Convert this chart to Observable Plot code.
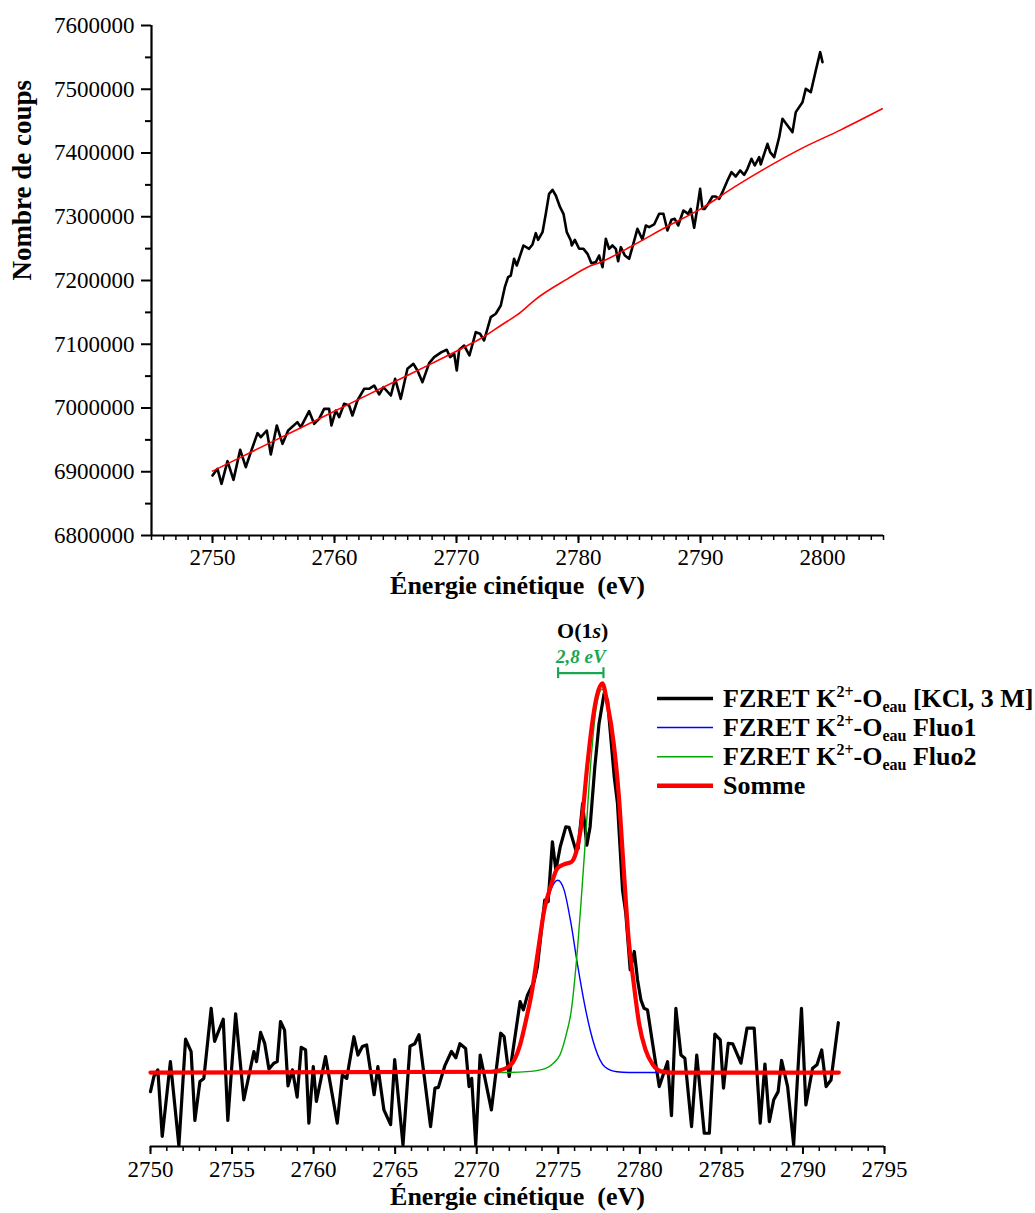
<!DOCTYPE html>
<html><head><meta charset="utf-8">
<script src="https://cdn.jsdelivr.net/npm/d3@7"></script>
<script src="https://cdn.jsdelivr.net/npm/@observablehq/plot@0.6"></script>
<style>
body{margin:0;background:#fff;}
svg{display:block}
</style></head><body>
<div id="chart"></div>
<script>
// ---------- DATA ----------
// Top panel: measured spectrum [energy (eV), counts]
const topSignal = [
[2750.00,6894100],[2750.41,6904600],[2750.74,6881100],[2751.23,6916600],[2751.72,6887300],[2752.27,6934400],[2752.73,6907200],[2753.14,6930700],[2753.69,6960500],[2753.96,6954200],[2754.45,6964700],[2754.78,6927100],[2755.27,6972600],[2755.74,6943800],[2756.20,6964700],[2756.96,6977800],[2757.24,6969900],[2757.92,6995000],[2758.33,6975200],[2758.74,6983000],[2759.15,6998700],[2759.56,6998700],[2759.75,6972600],[2760.11,6996100],[2760.38,6985600],[2760.79,7006600],[2761.20,7003900],[2761.47,6988200],[2761.88,7011800],[2762.43,7030100],[2762.84,7030100],[2763.25,7035300],[2763.66,7021200],[2764.01,7032700],[2764.62,7019600],[2764.97,7045800],[2765.43,7014400],[2765.98,7061500],[2766.47,7069300],[2766.80,7058800],[2767.21,7040500],[2767.76,7070300],[2768.17,7079700],[2768.77,7087600],[2769.20,7091300],[2769.48,7079700],[2769.81,7085000],[2770.02,7058800],[2770.22,7091300],[2770.63,7098000],[2771.06,7082400],[2771.58,7118900],[2771.94,7116400],[2772.26,7105900],[2772.81,7142500],[2773.22,7147800],
[2773.63,7160800],[2773.96,7189500],[2774.23,7205200],[2774.45,7207800],[2774.72,7234000],[2774.94,7223500],[2775.49,7254900],[2775.95,7249700],[2776.23,7256500],[2776.50,7274200],[2776.69,7263800],[2777.05,7275800],[2777.32,7304600],[2777.59,7336000],[2777.87,7342300],[2778.14,7333300],[2778.49,7315000],[2778.77,7304600],[2779.04,7275800],[2779.37,7262800],[2779.45,7254900],[2779.70,7263800],[2780.05,7249700],[2780.41,7249700],[2780.74,7241800],[2781.06,7227200],[2781.42,7228800],[2781.69,7239200],[2781.97,7220900],[2782.24,7265300],[2782.51,7249700],[2782.78,7254900],[2783.06,7249700],[2783.25,7230300],[2783.47,7252300],[2783.80,7239200],[2784.15,7234000],[2784.42,7252300],[2784.83,7281100],[2785.24,7264300],[2785.52,7286300],[2785.79,7283700],[2786.20,7287900],[2786.61,7304600],[2786.96,7304600],[2787.29,7278400],[2787.62,7295200],[2787.89,7296700],[2788.17,7286300],[2788.60,7309800],[2788.99,7304600],[2789.20,7312400],[2789.48,7282600],[2789.75,7315000],[2789.97,7343800],[2790.16,7312400],[2790.35,7312400],[2790.63,7320300],[2790.98,7331800],[2791.25,7331800],[2791.53,7328100],[2791.80,7338600],[2792.21,7356900],[2792.54,7369900],[2792.89,7363100],[2793.25,7372600],[2793.58,7365800],[2793.85,7375200],[2794.18,7390900],[2794.45,7380400],[2794.81,7393500],[2794.94,7382000],[2795.22,7398700],[2795.49,7414400],[2795.71,7401300],[2796.04,7393500],[2796.45,7424800],[2796.72,7453600],[2797.13,7443100],[2797.54,7432700],[2797.81,7464100],[2798.36,7479700],[2798.63,7500700],[2799.04,7495400],[2799.45,7529400],[2799.81,7558200],[2800.00,7542500]
];
// Top panel: background fit (red)
const topBackground = [
[2750.0,6901000],[2755.0,6948000],[2760.0,6995000],[2765.0,7042000],[2768.0,7070000],[2770.9,7098000],[2772.26,7112000],[2773.63,7129400],[2775.27,7150300],[2776.36,7168600],[2779.10,7202600],[2780.74,7220900],[2781.83,7228800],[2784.56,7256000],[2787.29,7285000],[2790.02,7312400],[2792.76,7346400],[2795.49,7377800],[2798.22,7406500],[2801.50,7436300],[2804.9,7469300]
];
const topYTicks = [6800000,6900000,7000000,7100000,7200000,7300000,7400000,7500000,7600000];
const topXTicks = [2750,2760,2770,2780,2790,2800];

// Bottom panel: background-subtracted signal (normalised, arbitrary units)
const bottomSignal = [
[2750.00,-0.049],[2750.21,-0.010],[2750.45,0.007],[2750.72,-0.164],[2751.22,0.028],[2751.74,-0.188],[2752.15,0.086],[2752.49,0.054],[2752.72,-0.123],[2753.03,-0.023],[2753.27,-0.015],[2753.72,0.165],[2753.93,0.080],[2754.46,0.137],[2754.74,-0.123],[2755.22,0.151],[2755.72,-0.070],[2756.13,0.011],[2756.34,0.054],[2756.50,0.028],[2756.75,0.103],[2757.00,0.075],[2757.26,0.009],[2757.56,0.024],[2757.77,0.028],[2757.97,0.131],[2758.22,0.109],[2758.43,-0.034],[2758.70,0.007],[2758.99,-0.063],[2759.24,0.065],[2759.51,0.058],[2759.71,-0.130],[2759.98,0.015],[2760.17,-0.074],[2760.73,0.041],[2761.45,-0.130],[2761.76,-0.006],[2762.03,-0.015],[2762.47,0.092],[2762.72,0.045],[2762.99,0.067],[2763.25,0.071],[2763.71,-0.057],[2763.94,0.015],[2764.31,-0.096],[2764.72,-0.134],[2764.97,0.033],[2765.48,-0.186],[2765.91,0.068],[2766.20,0.074],[2766.46,0.097],[2767.17,-0.139],[2767.44,-0.040],[2767.65,-0.038],[2768.04,0.017],[2768.45,0.054],[2768.72,0.038],[2768.97,0.074],[2769.32,0.062],[2769.53,-0.036],[2769.69,-0.015],[2769.94,-0.186],[2770.21,0.045],[2770.90,-0.096],[2771.47,0.101],[2771.68,0.092],[2771.99,-0.010],[2772.66,0.182],[2772.86,0.161],[2773.11,0.199],[2773.52,0.234],[2773.72,0.272],[2774.17,0.443],[2774.38,0.439],[2774.64,0.593],[2774.85,0.520],[2775.12,0.580],[2775.46,0.631],[2775.66,0.630],[2776.07,0.572],[2776.22,0.576],[2776.49,0.691],[2776.75,0.584],[2776.95,0.631],[2777.24,0.785],[2777.50,0.897],[2777.81,0.974],[2778.02,0.956],[2778.43,0.760],[2778.63,0.691],[2778.94,0.469],[2779.14,0.409],[2779.41,0.264],[2779.66,0.311],[2779.86,0.238],[2780.07,0.186],[2780.26,0.165],[2780.47,0.161],[2780.78,0.075],[2781.19,-0.036],[2781.70,0.028],[2781.94,-0.111],[2782.21,0.165],[2782.52,0.045],[2782.76,0.037],[2783.17,-0.139],[2783.49,0.045],[2783.95,-0.156],[2784.26,-0.156],[2784.60,0.099],[2784.93,0.084],[2785.13,-0.040],[2785.42,0.075],[2785.69,0.074],[2786.20,0.024],[2786.57,0.114],[2787.01,0.114],[2787.38,-0.130],[2787.67,0.022],[2787.94,-0.126],[2788.21,-0.070],[2788.48,-0.049],[2788.69,0.031],[2789.06,-0.036],[2789.43,-0.186],[2789.91,0.165],[2790.18,-0.083],[2790.59,0.011],[2790.86,0.020],[2791.15,0.058],[2791.42,-0.036],[2791.72,-0.019],[2792.17,0.128]
];
// Fitted components
const fluo1 = [
[2750,0],[2770.3,0],[2771.35,0.005],[2772.05,0.018],[2772.65,0.07],[2773.05,0.14],[2773.35,0.20],[2773.75,0.30],[2774.15,0.41],[2774.55,0.47],[2774.97,0.494],[2775.35,0.47],[2775.75,0.39],[2776.15,0.285],[2776.6,0.178],[2776.95,0.11],[2777.25,0.065],[2777.85,0.015],[2778.6,0.002],[2779.3,0],[2792.2,0]
];
const fluo2 = [
[2750,0],[2771.8,0],[2773.3,0.003],[2774.2,0.01],[2774.7,0.024],[2775.1,0.045],[2775.5,0.10],[2775.8,0.16],[2776.1,0.28],[2776.4,0.44],[2776.7,0.62],[2777.0,0.80],[2777.3,0.93],[2777.7,0.985],[2778.0,0.94],[2778.4,0.84],[2778.7,0.715],[2779.0,0.53],[2779.3,0.35],[2779.65,0.22],[2779.95,0.125],[2780.35,0.057],[2780.8,0.02],[2781.3,0.003],[2782.3,0],[2792.2,0]
];
const somme = [
[2750,0],[2770.85,0.002],[2771.35,0.005],[2772.05,0.018],[2772.65,0.07],[2773.05,0.14],[2773.35,0.20],[2773.75,0.31],[2774.15,0.42],[2774.55,0.48],[2774.95,0.525],[2775.35,0.535],[2775.8,0.541],[2776.1,0.567],[2776.45,0.648],[2776.75,0.777],[2777.05,0.888],[2777.35,0.965],[2777.7,1.0],[2778.0,0.95],[2778.4,0.845],[2778.7,0.717],[2779.0,0.53],[2779.3,0.35],[2779.65,0.221],[2779.95,0.127],[2780.35,0.058],[2780.8,0.02],[2781.3,0.003],[2781.8,0],[2792.2,0]
];
const bottomXTicks = [2750,2755,2760,2765,2770,2775,2780,2785,2790,2795];
// Annotation: splitting between the two components
const splitting = [{x1: 2774.99, x2: 2777.77, y: 1.026, label: "2,8 eV"}];
const peakName = {x: 2776.53, y: 1.135};

// Legend entries (shift: 0 = baseline, "sup" raised, "sub" lowered)
const legendSeries = [
  {parts: [["FZRET K", 0], ["2+", "sup"], ["-O", 0], ["eau", "sub"], [" [KCl, 3 M]", 0]], color: "#000000", width: 3.5},
  {parts: [["FZRET K", 0], ["2+", "sup"], ["-O", 0], ["eau", "sub"], [" Fluo1", 0]], color: "#0000ff", width: 1.5},
  {parts: [["FZRET K", 0], ["2+", "sup"], ["-O", 0], ["eau", "sub"], [" Fluo2", 0]], color: "#00a800", width: 1.5},
  {parts: [["Somme", 0]], color: "#ff0000", width: 4.5}
];

// ---------- CHART ----------
const font = "'Liberation Serif','Times New Roman',serif";
const green = "#1aa752";
const X = d => d[0], Y = d => d[1];

const topPlot = Plot.plot({
  width: 1035, height: 605,
  marginLeft: 151, marginRight: 152, marginTop: 25, marginBottom: 70,
  x: {domain: [2745, 2805]},
  y: {domain: [6800000, 7600000]},
  style: {fontFamily: font, fontSize: "23px", background: "#fff", color: "#000", overflow: "visible"},
  marks: [
    Plot.axisY({ticks: topYTicks, tickSize: 10, tickPadding: 7, tickFormat: d3.format("d"), label: null, strokeWidth: 2}),
    Plot.axisY({ticks: d3.range(6850000, 7600000, 100000), tickSize: 6, tickFormat: () => "", label: null, strokeWidth: 2}),
    Plot.axisX({ticks: topXTicks, tickSize: 8, tickPadding: 5, tickFormat: d3.format("d"), label: null, strokeWidth: 2}),
    Plot.axisX({ticks: d3.range(2745, 2806), tickSize: 5, tickFormat: () => "", label: null, strokeWidth: 1.5}),
    Plot.ruleX([2745], {strokeWidth: 2.2}),
    Plot.ruleY([6800000], {strokeWidth: 2.2}),
    Plot.line(topSignal, {x: X, y: Y, stroke: "#000", strokeWidth: 2.6}),
    Plot.line(topBackground, {x: X, y: Y, stroke: "#ff0000", strokeWidth: 1.6, curve: "monotone-x"}),
    Plot.text(["Énergie cinétique\u00a0 (eV)"], {text: d => d, frameAnchor: "bottom", dy: 58, fontSize: 26, fontWeight: "bold"}),
    Plot.text(["Nombre de coups"], {text: d => d, frameAnchor: "left", dx: -129, rotate: -90, fontSize: 27, fontWeight: "bold"})
  ]
});

const bottomPlot = Plot.plot({
  width: 1035, height: 608,
  marginLeft: 150, marginRight: 151, marginTop: 35, marginBottom: 67,
  x: {domain: [2750, 2795]},
  y: {domain: [-0.19, 1.11], axis: null},
  style: {fontFamily: font, fontSize: "23px", background: "#fff", color: "#000", overflow: "visible"},
  marks: [
    Plot.axisX({ticks: bottomXTicks, tickSize: 8, tickPadding: 6, tickFormat: d3.format("d"), label: null, strokeWidth: 2}),
    Plot.axisX({ticks: d3.range(2750, 2796), tickSize: 5, tickFormat: () => "", label: null, strokeWidth: 1.5}),
    Plot.ruleY([-0.19], {strokeWidth: 2.2}),
    Plot.line(bottomSignal, {x: X, y: Y, stroke: "#000", strokeWidth: 3.2}),
    Plot.line(fluo1, {x: X, y: Y, stroke: "#0000ff", strokeWidth: 1.4, curve: "monotone-x"}),
    Plot.line(fluo2, {x: X, y: Y, stroke: "#00a800", strokeWidth: 1.4, curve: "monotone-x"}),
    Plot.line(somme, {x: X, y: Y, stroke: "#ff0000", strokeWidth: 4.2, curve: "monotone-x"}),
    Plot.ruleY(splitting, {y: "y", x1: "x1", x2: "x2", stroke: green, strokeWidth: 2.2}),
    Plot.ruleX(splitting, {x: "x1", y1: d => d.y - 0.014, y2: d => d.y + 0.014, stroke: green, strokeWidth: 2.2}),
    Plot.ruleX(splitting, {x: "x2", y1: d => d.y - 0.014, y2: d => d.y + 0.014, stroke: green, strokeWidth: 2.2}),
    Plot.text(splitting, {x: d => (d.x1 + d.x2) / 2, y: d => d.y + 0.043, text: "label", fill: green, fontSize: 19, fontWeight: "bold", fontStyle: "italic"}),
    Plot.text(["Énergie cinétique\u00a0 (eV)"], {text: d => d, frameAnchor: "bottom", dy: 58, fontSize: 26, fontWeight: "bold"})
  ]
});

// Serif font on every text, tick-label size, and drop the empty minor-tick labels
for (const p of [topPlot, bottomPlot]) {
  const s = d3.select(p);
  s.selectAll("text").style("font-family", font);
  s.selectAll('g[aria-label$="tick label"] text').style("font-size", "23px");
  s.selectAll("text").filter(function() { return this.textContent.trim() === ""; }).remove();
}

// Peak name with italic "s"
const xs = bottomPlot.scale("x"), ys = bottomPlot.scale("y");
const bsvg = d3.select(bottomPlot);
const ot = bsvg.append("text")
  .attr("x", xs.apply(peakName.x)).attr("y", ys.apply(peakName.y))
  .attr("text-anchor", "middle").attr("dy", "0.35em")
  .style("font-family", font).attr("font-size", 22).attr("font-weight", "bold");
ot.append("tspan").text("O(1");
ot.append("tspan").attr("font-style", "italic").text("s");
ot.append("tspan").text(")");

// Legend (pixel layout inside the bottom panel)
const shiftPx = {sup: -10, sub: 5};
const lg = bsvg.append("g").style("font-family", font).attr("font-weight", "bold").attr("font-size", 26).attr("text-anchor", "start");
legendSeries.forEach((s, i) => {
  const y = 93.5 + i * 29.1;
  lg.append("line").attr("x1", 657).attr("x2", 713).attr("y1", y).attr("y2", y)
    .attr("stroke", s.color).attr("stroke-width", s.width);
  const t = lg.append("text").attr("x", 723).attr("y", y + 8.5).attr("text-anchor", "start");
  let cur = 0;
  s.parts.forEach(([str, kind]) => {
    const target = kind ? shiftPx[kind] : 0;
    const ts = t.append("tspan").attr("dy", target - cur).text(str.replace(/ /g, "\u00a0"));
    if (kind) ts.attr("font-size", 16);
    cur = target;
  });
});

const chart = document.getElementById("chart");
chart.appendChild(topPlot);
chart.appendChild(bottomPlot);
</script>
</body></html>
